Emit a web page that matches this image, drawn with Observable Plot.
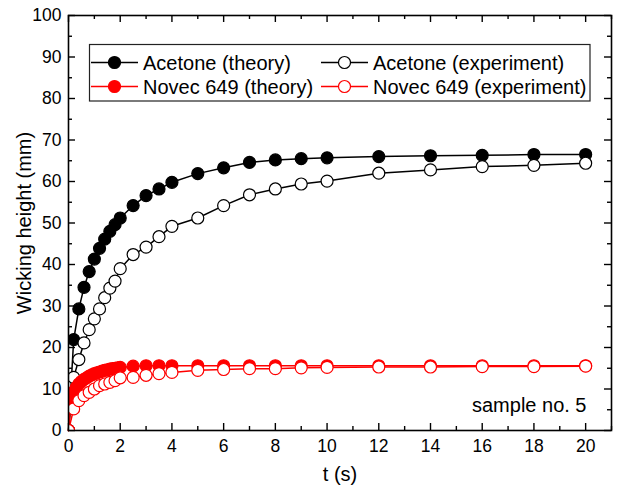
<!DOCTYPE html>
<html>
<head>
<meta charset="utf-8">
<script src="https://cdn.jsdelivr.net/npm/d3@7"></script>
<script src="https://cdn.jsdelivr.net/npm/@observablehq/plot@0.6"></script>
<style>
  body { margin: 0; background: #fff; }
  #chart svg { display: block; }
</style>
</head>
<body>
<div id="chart"></div>
<script>
// ---- data ----
const acetoneTheoryT = [0, 0.2, 0.4, 0.6, 0.8, 1.0, 1.2, 1.4, 1.6, 1.8, 2.0, 2.5, 3, 3.5, 4, 5, 6, 7, 8, 9, 10, 12, 14, 16, 18, 20];
const acetoneTheoryH = [0, 21.9, 29.3, 34.5, 38.3, 41.3, 43.9, 46.1, 48.0, 49.6, 51.2, 54.2, 56.6, 58.2, 59.8, 61.9, 63.3, 64.6, 65.2, 65.5, 65.7, 66.0, 66.2, 66.3, 66.5, 66.5];

const acetoneExpT = [0, 0.2, 0.4, 0.6, 0.8, 1.0, 1.2, 1.4, 1.6, 1.8, 2.0, 2.5, 3, 3.5, 4, 5, 6, 7, 8, 9, 10, 12, 14, 16, 18, 20];
const acetoneExpH = [0, 12.8, 17.1, 21.1, 24.3, 26.9, 29.3, 32.0, 34.3, 36.0, 39.0, 42.4, 44.2, 46.7, 49.2, 51.2, 54.2, 56.8, 58.2, 59.4, 60.1, 62.0, 62.8, 63.6, 63.9, 64.4];

const novecTheoryT = [0, 0.1, 0.2, 0.3, 0.4, 0.5, 0.6, 0.7, 0.8, 0.9, 1.0, 1.1, 1.2, 1.3, 1.4, 1.5, 1.6, 1.7, 1.8, 1.9, 2.0, 2.5, 3, 3.5, 4, 5, 6, 7, 8, 9, 10, 12, 14, 16, 18, 20];
const novecTheoryH = [0, 7.5, 9.3, 10.4, 11.2, 11.8, 12.3, 12.7, 13.1, 13.4, 13.7, 13.9, 14.1, 14.3, 14.5, 14.6, 14.8, 14.9, 15.0, 15.1, 15.2, 15.5, 15.6, 15.6, 15.6, 15.6, 15.6, 15.6, 15.6, 15.6, 15.6, 15.6, 15.6, 15.6, 15.6, 15.6];

const novecExpT = [0, 0.2, 0.4, 0.6, 0.8, 1.0, 1.2, 1.4, 1.6, 1.8, 2.0, 2.5, 3, 3.5, 4, 5, 6, 7, 8, 9, 10, 12, 14, 16, 18, 20];
const novecExpH = [0, 5.2, 7.2, 8.4, 9.2, 10.0, 10.8, 11.2, 11.6, 12.0, 12.7, 12.8, 13.3, 13.7, 14.0, 14.5, 14.7, 14.9, 14.9, 15.1, 15.2, 15.3, 15.3, 15.4, 15.4, 15.5];

const seriesNames = ["Acetone (theory)", "Acetone (experiment)", "Novec 649 (theory)", "Novec 649 (experiment)"];
const seriesColors = ["#000000", "#000000", "#ff0000", "#ff0000"];
const seriesFilled = [true, false, true, false];

const xMajorTicks = [0, 2, 4, 6, 8, 10, 12, 14, 16, 18, 20];
const xMinorTicks = [1, 3, 5, 7, 9, 11, 13, 15, 17, 19, 21];
const yMajorTicks = [0, 10, 20, 30, 40, 50, 60, 70, 80, 90, 100];
const yMinorTicks = [5, 15, 25, 35, 45, 55, 65, 75, 85, 95];

const xLabel = "t (s)";
const yLabel = "Wicking height (mm)";
const noteText = "sample no. 5";

// ---- build tables ----
const seriesT = [acetoneTheoryT, acetoneExpT, novecTheoryT, novecExpT];
const seriesH = [acetoneTheoryH, acetoneExpH, novecTheoryH, novecExpH];
const tables = seriesNames.map((name, i) => seriesT[i].map((t, j) => ({series: name, t, h: seriesH[i][j]})));

// ---- layout ----
const W = 617, H = 485;
const mL = 68, mR = 6, mT = 15, mB = 55;
const innerW = W - mL - mR, innerH = H - mT - mB;
const majorLen = 7, minorLen = 4;
const font = "'Liberation Sans', Arial, Helvetica, sans-serif";
const R = 6;

const marks = [];
// tick marks (inward, on all four sides)
const tickStyle = {stroke: "black", strokeWidth: 1.4};
marks.push(Plot.ruleX(xMajorTicks, {...tickStyle, insetTop: innerH - majorLen}));
marks.push(Plot.ruleX(xMajorTicks, {...tickStyle, insetBottom: innerH - majorLen}));
marks.push(Plot.ruleX(xMinorTicks, {...tickStyle, insetTop: innerH - minorLen}));
marks.push(Plot.ruleX(xMinorTicks, {...tickStyle, insetBottom: innerH - minorLen}));
marks.push(Plot.ruleY(yMajorTicks, {...tickStyle, insetRight: innerW - majorLen}));
marks.push(Plot.ruleY(yMajorTicks, {...tickStyle, insetLeft: innerW - majorLen}));
marks.push(Plot.ruleY(yMinorTicks, {...tickStyle, insetRight: innerW - minorLen}));
marks.push(Plot.ruleY(yMinorTicks, {...tickStyle, insetLeft: innerW - minorLen}));

marks.push(Plot.axisX({ticks: xMajorTicks, tickSize: 0, tickPadding: 9, fontSize: 17.5, label: null}));
marks.push(Plot.axisY({ticks: yMajorTicks, tickSize: 0, tickPadding: 7, fontSize: 17.5, label: null}));

// series: line then markers
tables.forEach((data, i) => {
  marks.push(Plot.line(data, {x: "t", y: "h", stroke: seriesColors[i], strokeWidth: 1.5}));
  marks.push(Plot.dot(data, {
    x: "t", y: "h", r: R,
    fill: seriesFilled[i] ? seriesColors[i] : "white",
    stroke: seriesColors[i], strokeWidth: 1.2, clip: true
  }));
});

marks.push(Plot.frame({stroke: "black", strokeWidth: 1.6}));

marks.push(Plot.text([xLabel], {frameAnchor: "bottom", dy: 50, fontSize: 20, text: d => d}));
marks.push(Plot.text([yLabel], {frameAnchor: "left", dx: -44, rotate: -90, textAnchor: "middle", fontSize: 20, text: d => d}));
marks.push(Plot.text([noteText], {frameAnchor: "bottom-right", dx: -25, dy: -19, fontSize: 20, textAnchor: "end", text: d => d}));

const svg = Plot.plot({
  width: W, height: H,
  marginLeft: mL, marginRight: mR, marginTop: mT, marginBottom: mB,
  x: {domain: [0, 21]},
  y: {domain: [0, 100]},
  style: {fontFamily: font, fontSize: "17px", color: "black", background: "white", overflow: "visible"},
  marks
});

// ---- legend box drawn onto the plot svg ----
const lg = d3.select(svg).append("g").attr("font-family", font).attr("font-size", 20).attr("text-anchor", "start");
const box = {x: 89.5, y: 44.5, w: 500.5, h: 56.5};
lg.append("rect").attr("x", box.x).attr("y", box.y).attr("width", box.w).attr("height", box.h)
  .attr("fill", "white").attr("stroke", "#222").attr("stroke-width", 1.2);
const colX = [91, 321];
const rowY = [62.5, 86.5];
seriesNames.forEach((name, i) => {
  const cx = colX[i % 2], cy = rowY[Math.floor(i / 2)];
  lg.append("line").attr("x1", cx).attr("x2", cx + 47).attr("y1", cy).attr("y2", cy)
    .attr("stroke", seriesColors[i]).attr("stroke-width", 1.5);
  lg.append("circle").attr("cx", cx + 23.5).attr("cy", cy).attr("r", R)
    .attr("fill", seriesFilled[i] ? seriesColors[i] : "white")
    .attr("stroke", seriesColors[i]).attr("stroke-width", 1.2);
  lg.append("text").attr("x", cx + 52).attr("y", cy).attr("dy", "0.35em")
    .attr("text-anchor", "start").attr("fill", "black").text(name);
});

document.getElementById("chart").appendChild(svg);
</script>
</body>
</html>
